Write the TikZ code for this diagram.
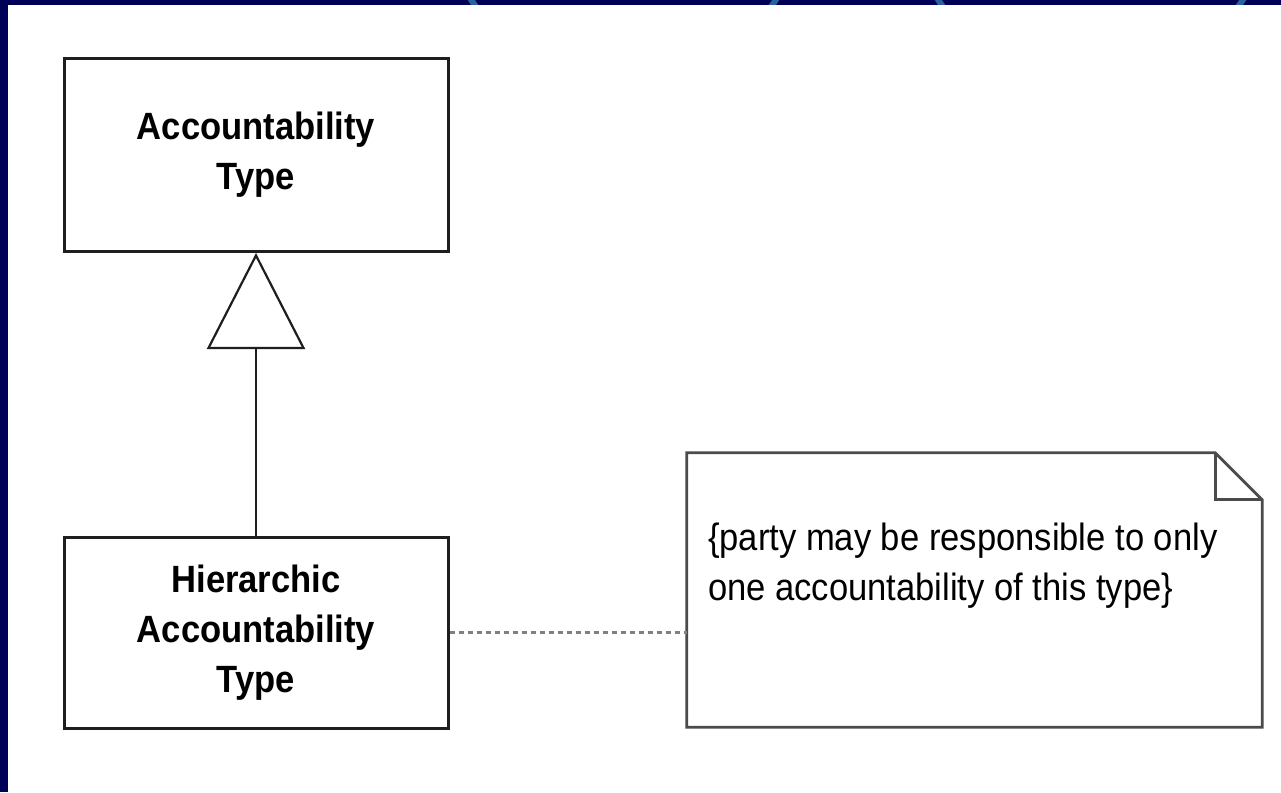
\documentclass[tikz,border=0pt]{standalone}
\usepackage{fontspec}
\setmainfont{Liberation Sans}[FakeStretch=0.91]
\usetikzlibrary{arrows.meta}

\definecolor{slidenavy}{RGB}{0,0,88}
\definecolor{slidearc}{RGB}{42,96,156}
\definecolor{umlline}{RGB}{30,30,30}
\definecolor{notegray}{RGB}{75,75,75}

\begin{document}
\begin{tikzpicture}[x=1pt,y=-1pt,
  classbox/.style={draw=umlline,line width=3pt,minimum width=384pt,minimum height=193pt,
    inner sep=0pt,align=center,text=black,font=\fontsize{38}{50}\selectfont\bfseries},
  noteline/.style={draw=notegray,line width=2.8pt,line join=miter},
  >={Triangle[open,length=96pt,width=98pt]}]
\useasboundingbox (0,0) rectangle (1281,792);
\fill[white] (0,0) rectangle (1281,792);
% slide frame
\fill[slidenavy] (0,0) rectangle (1281,5);
\fill[slidenavy] (0,0) rectangle (8,792);
\begin{scope}
\clip (8,0) rectangle (1281,5);
\draw[slidearc,line width=6pt] (623.5,-97.5) circle (180.7);
\draw[slidearc,line width=6pt] (1090.5,-97.5) circle (180.7);
\end{scope}
% classes
\node[classbox] (acctype) at (256,155) {Accountability\\Type};
\node[classbox,minimum height=191pt] (hiertype) at (256,632.5) {Hierarchic\\Accountability\\Type};
\draw[->,umlline,line width=2.2pt] (hiertype) -- (acctype);
% constraint note
\node[minimum width=575pt,minimum height=274pt,inner sep=0pt] (note) at (974.5,590) {};
\draw[noteline] (note.north west) -- ([xshift=-47pt]note.north east)
  -- ([yshift=-47pt]note.north east) -- (note.south east) -- (note.south west) -- cycle;
\draw[noteline] ([xshift=-47pt]note.north east) |- ([yshift=-47pt]note.north east);
\node[anchor=north west,align=left,inner sep=0pt,text=black,font=\fontsize{38}{50}\selectfont]
  (constraint) at ([shift={(21pt,-70pt)}]note.north west)
  {\{party may be responsible to only\\one accountability of this type\}};
\draw[gray,line width=3pt,dash pattern=on 5pt off 4pt] (hiertype.east) -- (hiertype.east -| note.west);
\end{tikzpicture}
\end{document}
